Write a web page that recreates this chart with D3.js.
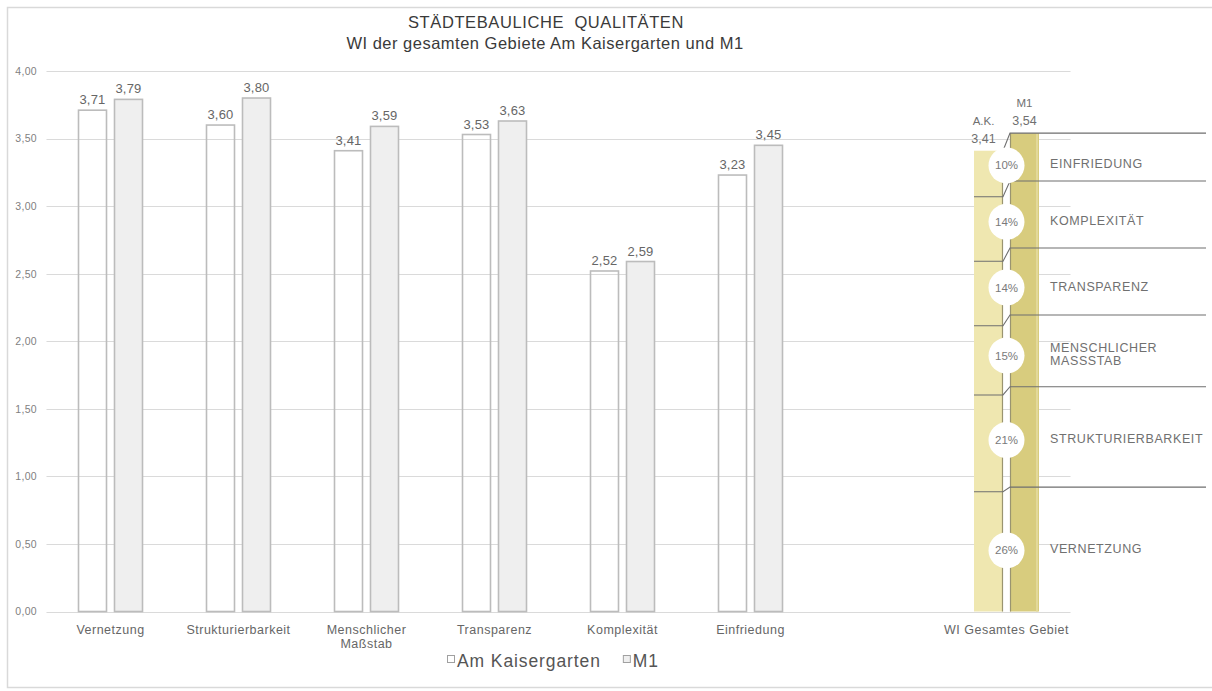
<!DOCTYPE html>
<html>
<head>
<meta charset="utf-8">
<script src="https://cdn.jsdelivr.net/npm/d3@7"></script>
<style>
  html, body { margin: 0; padding: 0; background: #fff; }
  svg { display: block; font-family: "Liberation Sans", Arial, sans-serif; }
</style>
</head>
<body>
<svg id="chart" width="1212" height="691"></svg>
<script>
// Scores per criterion for both areas
const categories = ["Vernetzung", "Strukturierbarkeit", "Menschlicher\nMaßstab", "Transparenz", "Komplexität", "Einfriedung"];
const amKaisergarten = [3.71, 3.60, 3.41, 3.53, 2.52, 3.23];
const m1 = [3.79, 3.80, 3.59, 3.63, 2.59, 3.45];

// Weighted overall index (WI) and the share of each criterion
const totalCategory = "WI Gesamtes Gebiet";
const totalNames = ["A.K.", "M1"];
const totalValues = [3.41, 3.54];
const weights = [26, 21, 15, 14, 14, 10];
const weightLabels = ["VERNETZUNG", "STRUKTURIERBARKEIT", "MENSCHLICHER\nMASSSTAB", "TRANSPARENZ", "KOMPLEXITÄT", "EINFRIEDUNG"];

const yTicks = [0, 0.5, 1, 1.5, 2, 2.5, 3, 3.5, 4];
const seriesNames = ["Am Kaisergarten", "M1"];
const titleLines = ["STÄDTEBAULICHE  QUALITÄTEN", "WI der gesamten Gebiete Am Kaisergarten und M1"];

const locale = d3.formatLocale({ decimal: ",", thousands: ".", grouping: [3], currency: ["", " €"] });
const fmt = locale.format(".2f");

const svg = d3.select("#chart");

// outer frame
svg.append("rect")
  .attr("x", 7.5).attr("y", 7.5)
  .attr("width", 1220).attr("height", 680)
  .attr("fill", "#fff").attr("stroke", "#d9d9d9").attr("stroke-width", 1.5);

const slots = [...categories, " ", totalCategory];
const x = d3.scaleBand().domain(slots).range([46.5, 1070.5]);
const inner = d3.scaleBand().domain(seriesNames).range([0, x.bandwidth()])
  .paddingInner(7 / 36).paddingOuter(0.875);
const y = d3.scaleLinear().domain([0, 4]).range([611.5, 71]);

// gridlines
svg.append("g").selectAll("line").data(yTicks).join("line")
  .attr("x1", 46.5).attr("x2", 1070.5)
  .attr("y1", d => Math.round(y(d)) + 0.5).attr("y2", d => Math.round(y(d)) + 0.5)
  .attr("stroke", "#dadada").attr("stroke-width", 1.2);

// y axis labels
const yAxis = d3.axisLeft(y).tickValues(yTicks).tickFormat(fmt).tickSize(0).tickPadding(0);
svg.append("g").attr("transform", "translate(37,0)").call(yAxis)
  .call(g => g.select(".domain").remove())
  .selectAll("text")
  .attr("font-family", "Liberation Sans, Arial, sans-serif")
  .attr("font-size", 10.5).attr("letter-spacing", 0.3).attr("fill", "#7f7f7f");

// category bars
const rows = categories.map((c, i) => ({ c, vals: [amKaisergarten[i], m1[i]] }));
const groups = svg.append("g").selectAll("g").data(rows).join("g")
  .attr("transform", d => `translate(${x(d.c)},0)`);

groups.selectAll("rect").data(d => d.vals.map((v, j) => ({ v, s: seriesNames[j] }))).join("rect")
  .attr("x", d => inner(d.s) + 0.5)
  .attr("y", d => y(d.v))
  .attr("width", inner.bandwidth() - 1)
  .attr("height", d => y(0) - y(d.v))
  .attr("fill", d => d.s === seriesNames[0] ? "none" : "#efefef")
  .attr("stroke", "#bcbcbc").attr("stroke-width", 1.6);

groups.selectAll("text.val").data(d => d.vals.map((v, j) => ({ v, s: seriesNames[j] }))).join("text")
  .attr("class", "val")
  .attr("x", d => inner(d.s) + inner.bandwidth() / 2)
  .attr("y", d => y(d.v) - 6)
  .attr("text-anchor", "middle")
  .attr("font-size", 13).attr("letter-spacing", 0.2).attr("fill", "#666")
  .text(d => fmt(d.v));

// x axis labels
const xAxis = d3.axisBottom(x).tickSize(0).tickPadding(0).tickFormat(() => "");
const xg = svg.append("g").attr("transform", `translate(0,${y(0)})`).call(xAxis);
xg.select(".domain").remove();
xg.selectAll(".tick").each(function (d) {
  const t = d3.select(this).select("text")
    .attr("font-family", "Liberation Sans, Arial, sans-serif")
    .attr("font-size", 12.5).attr("letter-spacing", 0.5).attr("fill", "#666").attr("y", 22).attr("dy", null);
  d.split("\n").forEach((line, i) => {
    t.append("tspan").attr("x", 0).attr("dy", i === 0 ? 0 : 14).text(line.trim());
  });
});

// overall index bars with weighted segments
const totalBand = x(totalCategory);
const barX = seriesNames.map(s => totalBand + inner(s));
const bw = inner.bandwidth();
const cum = [0];
weights.forEach((w, i) => cum.push(cum[i] + w));
const bounds = totalValues.map(t => cum.map(c => t * c / 100));

const tg = svg.append("g");
tg.append("rect").attr("x", barX[0]).attr("y", y(totalValues[0]))
  .attr("width", bw).attr("height", y(0) - y(totalValues[0])).attr("fill", "#efe7b0");
tg.append("rect").attr("x", barX[1]).attr("y", y(totalValues[1]))
  .attr("width", bw).attr("height", y(0) - y(totalValues[1])).attr("fill", "#d8cc7e");
tg.append("rect").attr("x", barX[1] + bw - 3).attr("y", y(totalValues[1]))
  .attr("width", 2).attr("height", y(0) - y(totalValues[1])).attr("fill", "#e3d99a");
tg.append("line").attr("x1", barX[0] + bw - 0.5).attr("x2", barX[0] + bw - 0.5)
  .attr("y1", y(totalValues[0])).attr("y2", y(0)).attr("stroke", "#9a9470").attr("stroke-width", 1.2);
tg.append("line").attr("x1", barX[1] + 0.5).attr("x2", barX[1] + 0.5)
  .attr("y1", y(totalValues[1])).attr("y2", y(0)).attr("stroke", "#9a9470").attr("stroke-width", 1.2);

// segment boundaries (inner and top)
const joins = d3.range(1, weights.length + 1);
joins.forEach(k => {
  const ya = y(bounds[0][k]), yb = y(bounds[1][k]);
  const isTop = k === weights.length;
  const path = d3.path();
  if (!isTop) {
    path.moveTo(barX[0], ya);
    path.lineTo(barX[0] + bw, ya);
  } else {
    path.moveTo(barX[0] + bw, ya);
  }
  path.lineTo(barX[1], yb);
  path.lineTo(1206, yb);
  tg.append("path").attr("d", path.toString()).attr("fill", "none")
    .attr("stroke", "#6f6f6f").attr("stroke-width", 1.1);
});

// percent circles and criterion names
const gapX = (barX[0] + bw + barX[1]) / 2;
weights.forEach((w, i) => {
  const mid = (y((bounds[0][i] + bounds[0][i + 1]) / 2) + y((bounds[1][i] + bounds[1][i + 1]) / 2)) / 2;
  tg.append("circle").attr("cx", gapX).attr("cy", mid).attr("r", 18).attr("fill", "#fff");
  tg.append("text").attr("x", gapX).attr("y", mid + 4).attr("text-anchor", "middle")
    .attr("font-size", 11.5).attr("fill", "#7a7a7a").text(w + "%");
  const lines = weightLabels[i].split("\n");
  const lt = tg.append("text").attr("x", 1050).attr("y", mid + 3 - (lines.length - 1) * 6.5)
    .attr("font-size", 12.5).attr("letter-spacing", 0.6).attr("fill", "#707070");
  lines.forEach((l, j) => lt.append("tspan").attr("x", 1050).attr("dy", j === 0 ? 0 : 13).text(l));
});

// totals above the overall bars
[0, 1].forEach(j => {
  const cx = barX[j] + bw / 2 - (j === 0 ? 5 : 0);
  tg.append("text").attr("x", cx).attr("y", y(totalValues[j]) - 8).attr("text-anchor", "middle")
    .attr("font-size", 12.5).attr("fill", "#707070").text(fmt(totalValues[j]));
  tg.append("text").attr("x", cx).attr("y", y(totalValues[j]) - 26).attr("text-anchor", "middle")
    .attr("font-size", 11.5).attr("fill", "#707070").text(totalNames[j]);
});

// title
svg.append("text").attr("x", 546).attr("y", 28).attr("text-anchor", "middle")
  .attr("font-size", 16.5).attr("letter-spacing", 0.6).attr("fill", "#3a3a3a")
  .style("white-space", "pre").text(titleLines[0]);
svg.append("text").attr("x", 545).attr("y", 49).attr("text-anchor", "middle")
  .attr("font-size", 16.5).attr("letter-spacing", 0.5).attr("fill", "#3a3a3a").text(titleLines[1]);

// legend
const lg = svg.append("g");
let lx = 447;
seriesNames.forEach((s, i) => {
  lg.append("rect").attr("x", lx + 0.5).attr("y", 655.5).attr("width", 7).attr("height", 7)
    .attr("fill", i === 0 ? "#fff" : "#efefef").attr("stroke", "#a0a0a0").attr("stroke-width", 1);
  const t = lg.append("text").attr("x", lx + 10).attr("y", 667).attr("font-size", 17.5)
    .attr("letter-spacing", 0.9).attr("fill", "#555").text(s);
  lx += 10 + t.node().getComputedTextLength() + 22;
});
</script>
</body>
</html>
